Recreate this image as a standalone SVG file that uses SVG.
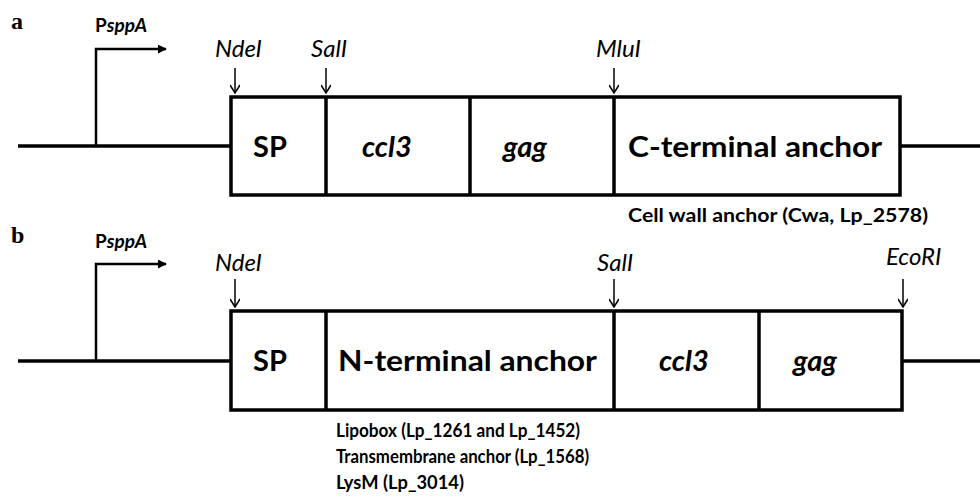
<svg xmlns="http://www.w3.org/2000/svg" width="980" height="497" viewBox="0 0 980 497">
<defs>
<style>
.ln{stroke:#000;stroke-width:3.5;fill:none}
.box{stroke:#000;stroke-width:3.5;fill:#fff}
.site{stroke:#000;stroke-width:1.5;fill:none}
.prom{stroke:#000;stroke-width:2.5;fill:none}
.big{font-family:Lato,"Open Sans",sans-serif;font-weight:bold;font-size:29px;fill:#000}
.bigi{font-family:Lato,"Open Sans",sans-serif;font-weight:bold;font-style:italic;font-size:29px;fill:#000}
.re{font-family:Lato,"Open Sans",sans-serif;font-style:italic;font-size:24px;fill:#000}
.sub{font-family:Lato,"Open Sans",sans-serif;font-weight:bold;font-size:19.5px;fill:#000}
.pl{font-family:"Liberation Serif",serif;font-weight:bold;font-size:24px;fill:#000}
.pp{font-family:Lato,"Open Sans",sans-serif;font-weight:bold;font-size:19px;fill:#000}
</style>
<marker id="vh" viewBox="0 0 10 10" refX="9" refY="5" markerWidth="10" markerHeight="10" markerUnits="userSpaceOnUse" orient="auto">
<path d="M1,0 L9,5 L1,10" fill="none" stroke="#000" stroke-width="1.5"/>
</marker>
<marker id="th" viewBox="0 0 10 10" refX="9" refY="5" markerWidth="9" markerHeight="9" markerUnits="userSpaceOnUse" orient="auto">
<path d="M0,0 L10,5 L0,10 Z" fill="#000"/>
</marker>
</defs>
<rect width="980" height="497" fill="#fff"/>

<text class="pl" x="11" y="29">a</text>
<g id="connectors">
<line class="ln" x1="18" y1="146" x2="231" y2="146"/>
<line class="ln" x1="900" y1="146" x2="980" y2="146"/>
<path class="prom" d="M96,146 V49 H166" marker-end="url(#th)"/>
<line class="site" x1="235" y1="68" x2="235" y2="93" marker-end="url(#vh)"/>
<line class="site" x1="326" y1="68" x2="326" y2="93" marker-end="url(#vh)"/>
<line class="site" x1="614" y1="68" x2="614" y2="93" marker-end="url(#vh)"/>

<line class="ln" x1="18" y1="361" x2="231" y2="361"/>
<line class="ln" x1="902" y1="361" x2="980" y2="361"/>
<path class="prom" d="M96,361 V264 H166" marker-end="url(#th)"/>
<line class="site" x1="235" y1="279" x2="235" y2="307" marker-end="url(#vh)"/>
<line class="site" x1="614" y1="279" x2="614" y2="307" marker-end="url(#vh)"/>
<line class="site" x1="903" y1="279" x2="903" y2="307" marker-end="url(#vh)"/>
</g>

<g id="promoter-a">
<text x="95" y="32"><tspan class="pp">P</tspan><tspan class="pp" font-style="italic" font-size="16">sppA</tspan></text>
</g>
<g id="sites-a">
<text class="re" x="215" y="57">NdeI</text>
<text class="re" x="311" y="57">SalI</text>
<text class="re" x="596" y="57">MluI</text>
</g>
<g id="construct-a">
<rect class="box" x="231" y="97" width="669" height="98"/>
<line class="ln" x1="326" y1="97" x2="326" y2="195"/>
<line class="ln" x1="470" y1="97" x2="470" y2="195"/>
<line class="ln" x1="614" y1="97" x2="614" y2="195"/>
</g>
<g id="node-a-sp"><text class="big" x="253" y="157">SP</text></g>
<g id="node-a-ccl3"><text class="bigi" x="362" y="157">ccl3</text></g>
<g id="node-a-gag"><text class="bigi" x="503" y="157">gag</text></g>
<g id="node-a-cterm"><text class="big" x="628" y="157" textLength="254" lengthAdjust="spacingAndGlyphs">C-terminal anchor</text></g>
<g id="label-a-cwa"><text class="sub" x="628" y="222" textLength="300" lengthAdjust="spacingAndGlyphs">Cell wall anchor (Cwa, Lp_2578)</text></g>

<text class="pl" x="11" y="243">b</text>
<g id="promoter-b">
<text x="95" y="248"><tspan class="pp">P</tspan><tspan class="pp" font-style="italic" font-size="16">sppA</tspan></text>
</g>
<g id="sites-b">
<text class="re" x="215" y="271">NdeI</text>
<text class="re" x="597" y="271">SalI</text>
<text class="re" x="886" y="265" font-size="20.5">EcoRI</text>
</g>
<g id="construct-b">
<rect class="box" x="231" y="311" width="671" height="99"/>
<line class="ln" x1="326" y1="311" x2="326" y2="410"/>
<line class="ln" x1="614" y1="311" x2="614" y2="410"/>
<line class="ln" x1="759" y1="311" x2="759" y2="410"/>
</g>
<g id="node-b-sp"><text class="big" x="253" y="371">SP</text></g>
<g id="node-b-nterm"><text class="big" x="338" y="371" textLength="259" lengthAdjust="spacingAndGlyphs">N-terminal anchor</text></g>
<g id="node-b-ccl3"><text class="bigi" x="659" y="371">ccl3</text></g>
<g id="node-b-gag"><text class="bigi" x="793" y="371">gag</text></g>
<g id="label-b-anchors">
<text class="sub" x="336" y="437" textLength="244" lengthAdjust="spacingAndGlyphs">Lipobox (Lp_1261 and Lp_1452)</text>
<text class="sub" x="336" y="463" textLength="253" lengthAdjust="spacingAndGlyphs">Transmembrane anchor (Lp_1568)</text>
<text class="sub" x="336" y="489" textLength="128" lengthAdjust="spacingAndGlyphs">LysM (Lp_3014)</text>
</g>
</svg>
